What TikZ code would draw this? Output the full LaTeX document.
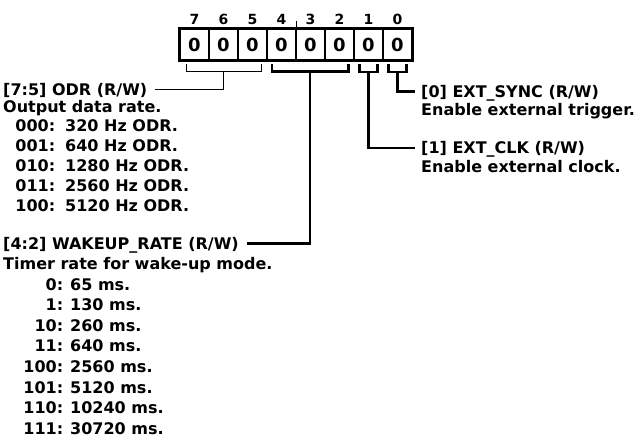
\documentclass[tikz,border=0pt]{standalone}
\usepackage{fontspec}
\setmainfont{DejaVu Sans}
\usetikzlibrary{calc}
\begin{document}
\begin{tikzpicture}[x=1pt,y=-1pt,
  txt/.style={font=\fontsize{16}{18}\selectfont\bfseries, inner sep=0pt, anchor=base west},
  bitlbl/.style={font=\fontsize{14}{16}\selectfont\bfseries, inner sep=0pt},
  cell/.style={draw, line width=1.6pt, minimum width=29pt, minimum height=31.5pt, inner sep=0pt, font=\fontsize{18}{20}\selectfont\bfseries},
  thinbr/.style={line width=1pt},
  thickbr/.style={line width=2.2pt}]
\useasboundingbox (0,0) rectangle (637,443);
% cells
\foreach \i/\n in {0/7,1/6,2/5,3/4,4/3,5/2,6/1,7/0}{
  \node[cell] (c\n) at ({194.5+29*\i},44.5) {0};
  \node[bitlbl] (b\n) at ({194.5+29*\i},19.5) {\n};
}
\draw[line width=2.6pt] (c7.north west) rectangle (c0.south east);
\draw[line width=1.2pt] (c4.north east) -- ++(0,-7);
% text blocks
\node[txt] (odr) at (3,95.5) {[7:5] ODR (R/W)};
\node[txt] (odrd) at (3,113) {Output data rate.};
\foreach \k/\a/\b in {0/000/320,1/001/640,2/010/1280,3/011/2560,4/100/5120}{
  \node[txt] (o\k) at (3,{131.5+20*\k}) {\makebox[52pt][r]{\a:}\hspace{10pt}\b\ Hz ODR.};
}
\node[txt] (wk) at (3,249.5) {[4:2] WAKEUP\_RATE (R/W)};
\node[txt] (wkd) at (3,270) {Timer rate for wake-up mode.};
\foreach \k/\a/\b in {0/0/65,1/1/130,2/10/260,3/11/640,4/100/2560,5/101/5120,6/110/10240,7/111/30720}{
  \node[txt] (w\k) at (3,{290.5+20.5*\k}) {\makebox[60pt][r]{\a:}\hspace{7pt}\b\ ms.};
}
\node[txt] (sync) at (421,97.5) {[0] EXT\_SYNC (R/W)};
\node[txt] (syncd) at (421,116) {Enable external trigger.};
\node[txt] (clk) at (421,154) {[1] EXT\_CLK (R/W)};
\node[txt] (clkd) at (421,172.5) {Enable external clock.};
% brackets
\coordinate (s75) at (223.5,71.5);
\coordinate (s42) at (310,71.5);
\coordinate (s1) at (368.5,72);
\coordinate (s0) at (397.5,72);
\draw[thinbr] (186,64.5) -- (186,71.5) -- (261,71.5) -- (261,64.5);
\draw[thinbr] (s75) |- ($(odr.base east)+(8,-6)$);
\draw[thickbr] (272,64.5) -- (272,71.5) -- (348.5,71.5) -- (348.5,64.5);
\draw[thickbr] (s42) |- ($(wk.base east)+(8,-6)$);
\draw[thickbr] (359.5,64.5) -- (359.5,72) -- (377.5,72) -- (377.5,64.5);
\draw[thickbr] (s1) |- ($(clk.base west)+(-6,-6)$);
\draw[thickbr] (388.5,64.5) -- (388.5,72) -- (406.5,72) -- (406.5,64.5);
\draw[thickbr] (s0) |- ($(sync.base west)+(-6,-6)$);
\end{tikzpicture}
\end{document}
